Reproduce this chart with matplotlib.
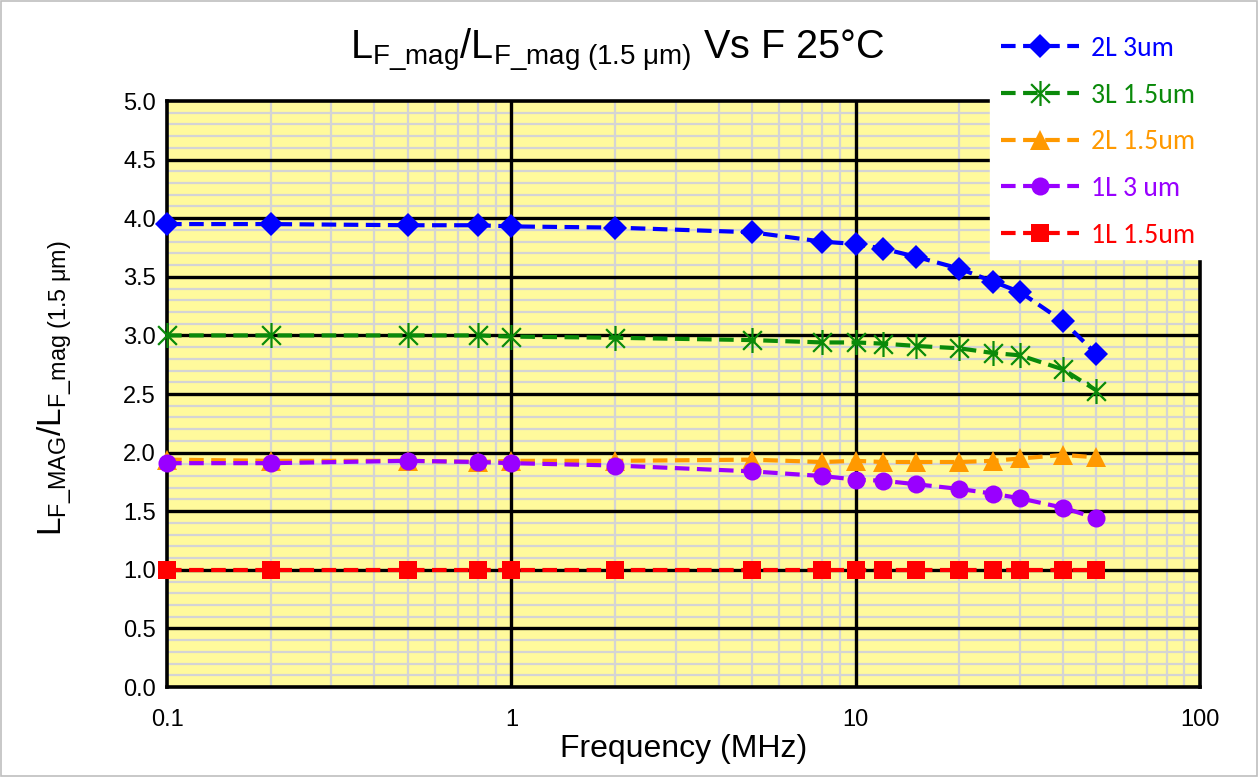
import matplotlib
matplotlib.use("Agg")
import matplotlib.pyplot as plt
from matplotlib.path import Path
from matplotlib.ticker import FixedLocator, MultipleLocator, FuncFormatter, NullLocator
from matplotlib.patches import Rectangle
from matplotlib import font_manager
import numpy as np

# ---- data ----
freq_mhz = [0.1, 0.2, 0.5, 0.8, 1, 2, 5, 8, 10, 12, 15, 20, 25, 30, 40, 50]
l2_3um = [3.95, 3.95, 3.94, 3.94, 3.93, 3.92, 3.88, 3.80, 3.78, 3.74, 3.67, 3.57, 3.46, 3.37, 3.12, 2.84]
l3_15um = [3.00, 3.00, 3.00, 3.00, 2.99, 2.98, 2.96, 2.94, 2.94, 2.93, 2.91, 2.89, 2.85, 2.83, 2.71, 2.53]
l2_15um = [1.94, 1.93, 1.93, 1.92, 1.93, 1.93, 1.94, 1.92, 1.93, 1.92, 1.92, 1.92, 1.93, 1.95, 1.98, 1.96]
l1_3um = [1.91, 1.91, 1.93, 1.92, 1.91, 1.89, 1.84, 1.80, 1.77, 1.76, 1.73, 1.69, 1.65, 1.61, 1.53, 1.44]
l1_15um = [1.0] * 16

series_labels = ["2L 3um", "3L 1.5um", "2L 1.5um", "1L 3 um", "1L 1.5um"]
x_ticks = [0.1, 1, 10, 100]
x_tick_labels = ["0.1", "1", "10", "100"]

sans = "Liberation Sans"
legend_font = "Lato"
names = {f.name for f in font_manager.fontManager.ttflist}
if "Carlito" in names:
    legend_font = "Carlito"

plt.rcParams["font.family"] = [sans, "DejaVu Sans"]
plt.rcParams["mathtext.fontset"] = "custom"
plt.rcParams["mathtext.rm"] = sans
plt.rcParams["mathtext.it"] = sans + ":italic"
plt.rcParams["mathtext.bf"] = sans + ":bold"

# asterisk marker: vertical bar plus an X
star_path = Path(
    [(0, -1), (0, 1), (-0.75, -0.75), (0.75, 0.75), (-0.75, 0.75), (0.75, -0.75)],
    [Path.MOVETO, Path.LINETO, Path.MOVETO, Path.LINETO, Path.MOVETO, Path.LINETO],
)

fig = plt.figure(figsize=(12.58, 7.77), dpi=100)
fig.patch.set_facecolor("white")
fig.patches.append(Rectangle((0.0008, 0.001), 0.9984, 0.998, transform=fig.transFigure,
                             fill=False, edgecolor="#BFBFBF", linewidth=1.2))

ax = fig.add_axes([0.1328, 0.1158, 0.8212, 0.7542])
ax.set_facecolor("#FFFA9C")
ax.set_xscale("log")
ax.set_xlim(0.1, 100)
ax.set_ylim(0, 5.0)

ax.xaxis.set_major_locator(FixedLocator(x_ticks))
ax.set_xticklabels(x_tick_labels)
ax.xaxis.set_minor_locator(NullLocator())
ax.yaxis.set_major_locator(MultipleLocator(0.5))
ax.yaxis.set_major_formatter(FuncFormatter(lambda v, p: f"{v:.1f}"))

# gridlines: light minor grid underneath, black major grid on top of it
minor_x = [m * 10.0 ** e for e in (-1, 0, 1) for m in range(2, 10)]
minor_y = [v for v in np.arange(0.1, 5.0, 0.1) if abs(v / 0.5 - round(v / 0.5)) > 1e-6]
for xv in minor_x:
    ax.axvline(xv, color="#D4D4D4", linewidth=1.6, zorder=0.1)
for yv in minor_y:
    ax.axhline(yv, color="#D4D4D4", linewidth=1.6, zorder=0.1)
for xv in x_ticks[1:-1]:
    ax.axvline(xv, color="black", linewidth=2.4, zorder=0.3)
for yv in np.arange(0.5, 5.0, 0.5):
    ax.axhline(yv, color="black", linewidth=2.4, zorder=0.3)

for s in ax.spines.values():
    s.set_linewidth(2.6)
    s.set_color("black")
ax.tick_params(which="both", length=0, labelsize=17)
ax.tick_params(axis="y", pad=8)
ax.tick_params(axis="x", pad=16)

lw = 3.0
dash = (3.5, 1.8)
specs = [
    (l2_3um, "#0000FF", "D", 12.5),
    (l3_15um, "#0A8A0A", star_path, 18),
    (l2_15um, "#FF9900", "^", 15),
    (l1_3um, "#9900FF", "o", 13),
    (l1_15um, "#FF0000", "s", 12.5),
]
order = [4, 2, 3, 1, 0]
lines = {}
for i in order:
    vals, col, mk, ms = specs[i]
    if mk is star_path:
        ln, = ax.plot(freq_mhz, vals, color=col, linewidth=lw, dashes=dash,
                      marker=mk, markersize=ms, markerfacecolor="none",
                      markeredgecolor=col, markeredgewidth=1.6, zorder=3,
                      label=series_labels[i], clip_on=False)
    else:
        ln, = ax.plot(freq_mhz, vals, color=col, linewidth=lw, dashes=dash,
                      marker=mk, markersize=ms, markerfacecolor=col,
                      markeredgecolor=col, markeredgewidth=0, zorder=3,
                      label=series_labels[i], clip_on=False)
    lines[i] = ln

title = r"$\mathregular{L_{F\_mag}/L_{F\_mag\ (1.5\ μm)}}$ Vs F 25°C"
fig.text(0.491, 0.935, title, ha="center", va="center", fontsize=28.5)

ax.set_xlabel("Frequency (MHz)", fontsize=23, labelpad=2)
ax.set_ylabel(r"$\mathregular{L_{F\_MAG}/L_{F\_mag\ (1.5\ μm)}}$", fontsize=24)
ax.yaxis.set_label_coords(-0.09, 0.51)

handles = [lines[i] for i in range(5)]
leg = fig.legend(handles, series_labels, loc="upper left",
                 bbox_to_anchor=(0.787, 0.968), frameon=True, fancybox=False,
                 edgecolor="white", facecolor="white", framealpha=1.0,
                 prop={"family": legend_font, "size": 20},
                 handlelength=2.8, labelspacing=0.78, borderpad=0.4,
                 handletextpad=0.45, borderaxespad=0)
for txt, (vals, col, *_ ) in zip(leg.get_texts(), specs):
    txt.set_color(col)
leg.set_zorder(10)

fig.savefig("out.png", dpi=100, facecolor="white")
